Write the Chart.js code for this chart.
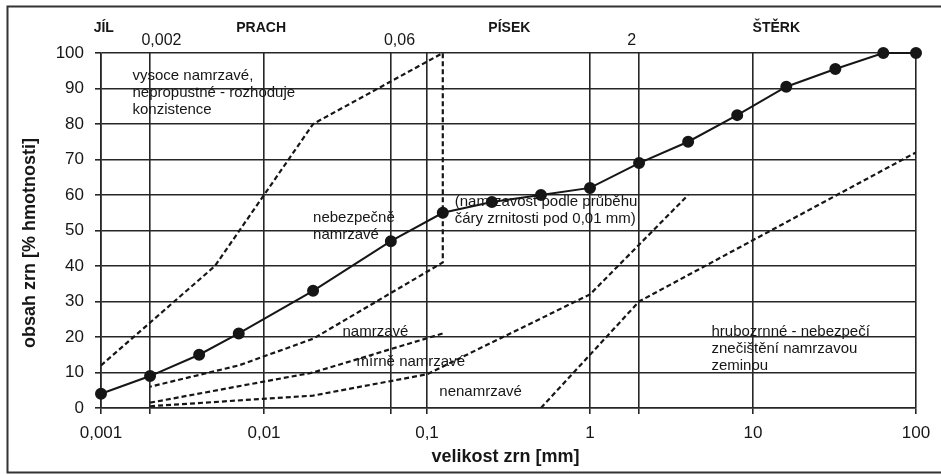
<!DOCTYPE html>
<html>
<head>
<meta charset="utf-8">
<script src="https://cdn.jsdelivr.net/npm/chart.js"></script>
<style>
  html, body { margin: 0; padding: 0; background: #fff; }
  #wrap { width: 941px; height: 476px; }
</style>
</head>
<body>
<div id="wrap"><canvas id="grainChart" width="941" height="476"></canvas></div>
<script>
// grading curve of the tested soil
const grainSize = [0.001, 0.002, 0.004, 0.007, 0.02, 0.06, 0.125, 0.25, 0.5, 1, 2, 4, 8, 16, 32, 63, 100];
const passing   = [4, 9, 15, 21, 33, 47, 55, 58, 60, 62, 69, 75, 82.5, 90.5, 95.5, 100, 100];

// frost susceptibility boundaries (dashed lines)
const highFrostX = [0.001, 0.005, 0.02, 0.125, 0.125, 0.02, 0.007, 0.002];
const highFrostY = [12, 40, 80, 100, 41, 19.5, 12, 6];
const frostX = [0.002, 0.02, 0.125];
const frostY = [1.5, 10, 21];
const mildX = [0.002, 0.02, 0.1, 1, 2, 4];
const mildY = [0.5, 3.5, 9.5, 32, 46, 60];
const coarseX = [0.5, 2, 100];
const coarseY = [0, 30, 72];

// x axis: grid lines, bottom labels, fraction limits on top
const xGrid = [0.001, 0.002, 0.01, 0.06, 0.1, 1, 2, 10, 100];
const xTickValues = [0.001, 0.01, 0.1, 1, 10, 100];
const xTickLabels = ['0,001', '0,01', '0,1', '1', '10', '100'];
const limitLabels = ['0,002', '0,06', '2'];
const limitAt = [0.00235, 0.0678, 1.8];
const zoneNames = ['JÍL', 'PRACH', 'PÍSEK', 'ŠTĚRK'];
const zoneAt = [0.00104, 0.0096, 0.32, 13.9];

// text notes inside the plot (x in mm, y in % of first line)
const noteText = [
  ['vysoce namrzavé,', 'nepropustné - rozhoduje', 'konzistence'],
  ['nebezpečně', 'namrzavé'],
  ['(namrzavost podle průběhu', 'čáry zrnitosti pod 0,01 mm)'],
  ['namrzavé'],
  ['mírně namrzavé'],
  ['nenamrzavé'],
  ['hrubozrnné - nebezpečí', 'znečištění namrzavou', 'zeminou']
];
const noteX = [0.00156, 0.02, 0.148, 0.0303, 0.037, 0.119, 5.56];
const noteY = [93.5, 53.5, 58, 21.4, 13, 4.5, 21.5];

const xTitle = 'velikost zrn [mm]';
const yTitle = 'obsah zrn [% hmotnosti]';

const ink = '#161616';
const gridInk = '#262626';
const FONT = "'Liberation Sans', Arial, sans-serif";

const toPts = (xs, ys) => xs.map((x, i) => ({ x: x, y: ys[i] }));

function dashed(xs, ys) {
  return {
    data: toPts(xs, ys),
    showLine: true,
    borderColor: ink,
    borderWidth: 2.2,
    borderDash: [5, 3],
    pointRadius: 0,
    fill: false,
    order: 1
  };
}

// white paper + frame round the figure
const paperPlugin = {
  id: 'paper',
  beforeDraw(chart) {
    const c = chart.ctx;
    c.save();
    c.fillStyle = '#fff';
    c.fillRect(0, 0, chart.width, chart.height);
    c.strokeStyle = '#333';
    c.lineWidth = 2;
    c.beginPath();
    c.moveTo(chart.width, 6.5);
    c.lineTo(7.5, 6.5);
    c.lineTo(7.5, 472.5);
    c.lineTo(chart.width, 472.5);
    c.stroke();
    c.restore();
  }
};

// notes, fraction names, limits and axis titles
const textPlugin = {
  id: 'texts',
  beforeDatasetsDraw(chart) {
    const c = chart.ctx;
    const xs = chart.scales.x, ys = chart.scales.y;
    c.save();
    c.fillStyle = ink;
    c.font = '15px ' + FONT;
    c.textAlign = 'left';
    c.textBaseline = 'middle';
    noteText.forEach((lines, i) => {
      const px = xs.getPixelForValue(noteX[i]);
      const py = ys.getPixelForValue(noteY[i]);
      lines.forEach((t, j) => c.fillText(t, px, py + j * 17));
    });
    c.restore();
  },
  afterDraw(chart) {
    const c = chart.ctx;
    const area = chart.chartArea;
    const xs = chart.scales.x;
    c.save();
    c.fillStyle = ink;
    c.textAlign = 'center';
    c.textBaseline = 'middle';
    c.font = 'bold 14px ' + FONT;
    zoneNames.forEach((n, i) => c.fillText(n, xs.getPixelForValue(zoneAt[i]), 28));
    c.font = '16px ' + FONT;
    limitLabels.forEach((n, i) => c.fillText(n, xs.getPixelForValue(limitAt[i]), 41));
    c.font = 'bold 18px ' + FONT;
    c.fillText(xTitle, (area.left + area.right) / 2 - 3, 457);
    c.translate(30, 243);
    c.rotate(-Math.PI / 2);
    c.fillText(yTitle, 0, 0);
    c.restore();
  }
};

const ctx = document.getElementById('grainChart').getContext('2d');
new Chart(ctx, {
  type: 'scatter',
  data: {
    datasets: [
      {
        data: toPts(grainSize, passing),
        showLine: true,
        borderColor: ink,
        borderWidth: 2,
        pointRadius: 5,
        pointBackgroundColor: ink,
        pointBorderColor: ink,
        clip: false,
        order: 0
      },
      dashed(highFrostX, highFrostY),
      dashed(frostX, frostY),
      dashed(mildX, mildY),
      dashed(coarseX, coarseY)
    ]
  },
  options: {
    responsive: false,
    animation: false,
    layout: { padding: { left: 0, right: 25, top: 53, bottom: 0 } },
    plugins: {
      legend: { display: false },
      tooltip: { enabled: false }
    },
    scales: {
      x: {
        type: 'logarithmic',
        position: 'bottom',
        min: 0.001,
        max: 100,
        afterBuildTicks: s => { s.ticks = xGrid.map(v => ({ value: v })); },
        afterFit: s => { s.height = 68; },
        grid: { color: gridInk, lineWidth: 1.6, tickLength: 6 },
        border: { color: gridInk, width: 1.6 },
        ticks: {
          autoSkip: false,
          maxRotation: 0,
          padding: 9,
          color: ink,
          font: { family: FONT, size: 17 },
          callback: v => {
            const i = xTickValues.indexOf(v);
            return i < 0 ? '' : xTickLabels[i];
          }
        }
      },
      y: {
        min: 0,
        max: 100,
        afterFit: s => { s.width = 101; },
        grid: { color: gridInk, lineWidth: 1.6, tickLength: 6 },
        border: { color: gridInk, width: 1.6 },
        ticks: {
          stepSize: 10,
          padding: 11,
          color: ink,
          font: { family: FONT, size: 17 }
        }
      }
    }
  },
  plugins: [paperPlugin, textPlugin]
});
</script>
</body>
</html>
